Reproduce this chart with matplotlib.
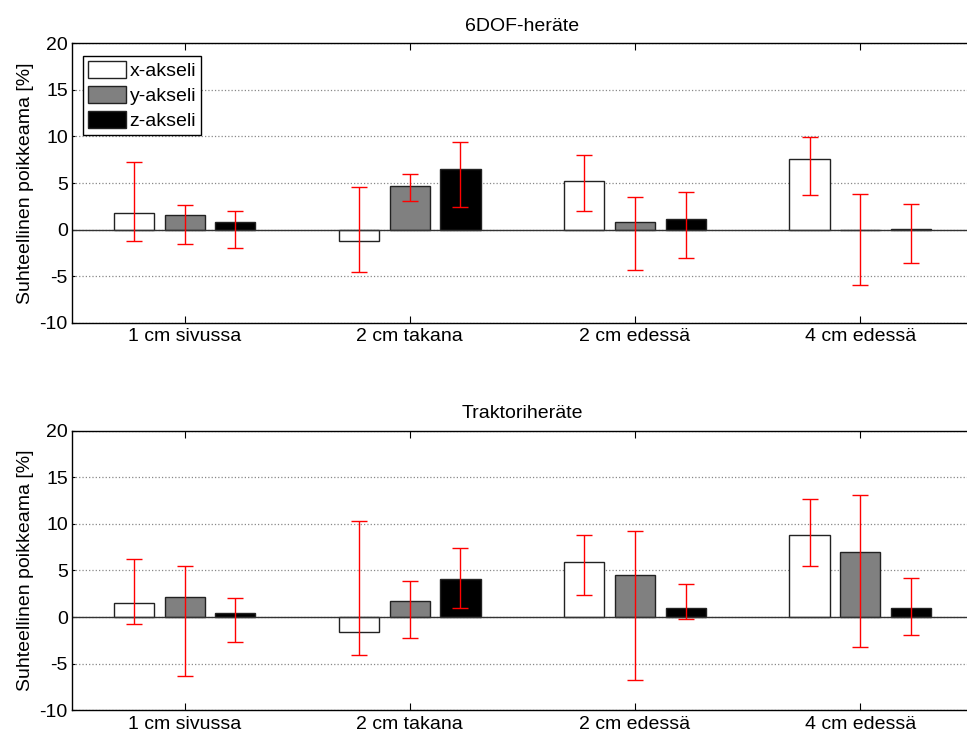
import matplotlib

matplotlib.use("Agg")
import matplotlib.pyplot as plt
import numpy as np

plt.rcParams["font.family"] = ["Liberation Sans", "DejaVu Sans"]
plt.rcParams["font.size"] = 14
plt.rcParams["axes.unicode_minus"] = False

positions = ["1 cm sivussa", "2 cm takana", "2 cm edessä", "4 cm edessä"]
series = ["x-akseli", "y-akseli", "z-akseli"]
colors = ["white", "#808080", "black"]

# 6DOF excitation: mean deviation and error bar lower / upper ends [%]
dof_mean = [[1.75, -1.25, 5.25, 7.54],
            [1.57, 4.68, 0.86, -0.05],
            [0.79, 6.46, 1.18, 0.10]]
dof_low = [[-1.18, -4.57, 1.96, 3.71],
           [-1.57, 3.04, -4.36, -5.96],
           [-1.96, 2.46, -3.04, -3.61]]
dof_high = [[7.30, 4.60, 8.00, 9.89],
            [2.64, 5.96, 3.54, 3.82],
            [2.04, 9.39, 4.00, 2.75]]

# tractor excitation
tr_mean = [[1.51, -1.65, 5.90, 8.85],
           [2.19, 1.76, 4.50, 6.94],
           [0.43, 4.14, 1.00, 1.00]]
tr_low = [[-0.79, -4.03, 2.37, 5.50],
          [-6.29, -2.27, -6.76, -3.24],
          [-2.63, 0.97, -0.18, -1.94]]
tr_high = [[6.18, 10.36, 8.85, 12.66],
           [5.50, 3.92, 9.24, 13.05],
           [2.05, 7.37, 3.52, 4.24]]

panels = [("6DOF-heräte", dof_mean, dof_low, dof_high),
          ("Traktoriheräte", tr_mean, tr_low, tr_high)]


def draw_panel(ax, title, mean, low, high, legend=False):
    x = np.arange(1, len(positions) + 1)
    offset, width = 0.225, 0.178
    for i, (name, col) in enumerate(zip(series, colors)):
        xs = x + (i - 1) * offset
        m = np.array(mean[i])
        yerr = [m - np.array(low[i]), np.array(high[i]) - m]
        ax.bar(xs, m, width, color=col, edgecolor="#222222", linewidth=1.0,
               label=name, zorder=2)
        ax.errorbar(xs, m, yerr=yerr, fmt="none", ecolor="red", elinewidth=1.0,
                    capsize=5.8, capthick=1.0, zorder=3)
    ax.axhline(0, color="#333333", linewidth=1.0, zorder=2.5)
    ax.set_xlim(0.5, 4.5)
    ax.set_ylim(-10, 20)
    ax.set_yticks(np.arange(-10, 21, 5))
    ax.set_xticks(x)
    ax.set_xticklabels(positions)
    ax.yaxis.grid(True, linestyle=":", color="#888888", linewidth=0.9, zorder=0)
    ax.tick_params(axis="x", direction="in", length=5, top=True, pad=4)
    ax.tick_params(axis="y", direction="in", length=2.5, right=True, pad=3)
    for s in ax.spines.values():
        s.set_linewidth(1.0)
    ax.set_ylabel("Suhteellinen poikkeama [%]", labelpad=4)
    ax.set_title(title, fontsize=14, pad=9)
    if legend:
        ax.legend(loc="upper left", bbox_to_anchor=(0.0122, 0.9556), borderaxespad=0,
                  fancybox=False, edgecolor="black", framealpha=1, handlelength=1.95,
                  handleheight=1.0, handletextpad=0.2, labelspacing=0.3, borderpad=0.25)


fig = plt.figure(figsize=(9.67, 7.33), dpi=100)
ax1 = fig.add_axes([0.0745, 0.5597, 0.9315, 0.3812])
ax2 = fig.add_axes([0.0745, 0.0310, 0.9315, 0.3814])
for ax, (title, m, lo, hi) in zip([ax1, ax2], panels):
    draw_panel(ax, title, m, lo, hi, legend=(ax is ax1))

fig.savefig("out.png", dpi=100)
